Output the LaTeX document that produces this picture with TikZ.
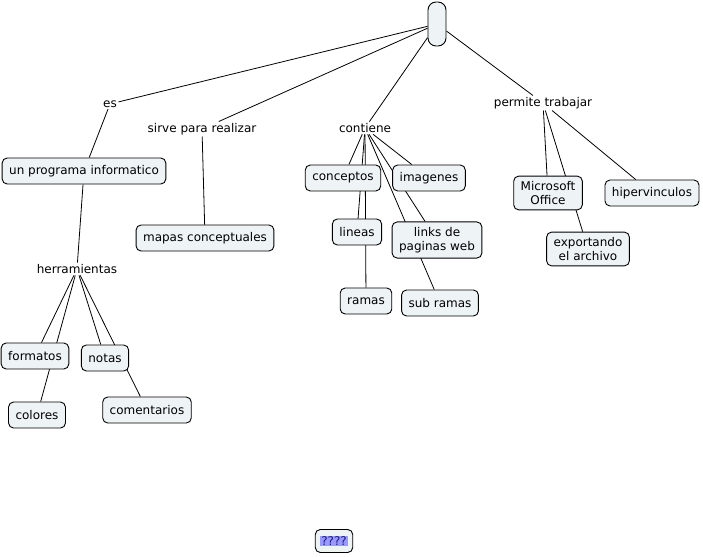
\documentclass[tikz,border=0pt]{standalone}
\usepackage{fontspec}
\setmainfont{DejaVu Sans}
\usepackage{xcolor}
\usepackage{tikz}
\usetikzlibrary{backgrounds}
\definecolor{MapFill}{HTML}{EEF3F5}
\definecolor{MapDark}{HTML}{000000}
\definecolor{AskFill}{HTML}{9999FF}
\definecolor{AskText}{HTML}{1A1A80}
\newcommand{\mapfont}{\fontsize{12}{14.5}\selectfont}
\tikzset{
  conceptbox/.style={draw=MapDark,fill=MapFill,rounded corners=5pt,align=center,minimum height=26pt,inner xsep=7pt,inner ysep=5pt,line width=0.9pt,font=\mapfont},
  linkword/.style={inner sep=1.5pt,font=\mapfont},
  maplink/.style={line width=0.8pt,draw=MapDark}
}

\begin{document}
\begin{tikzpicture}[x=1pt,y=-1pt]
\useasboundingbox (0,0) rectangle (703,556);
% root and linking phrases
\node[conceptbox,minimum width=18pt,minimum height=44pt,inner sep=0pt,rounded corners=8pt] (root) at (437,24) {};
\node[linkword] (es) at (110,104) {es};
\node[linkword] (sirve) at (202,129) {sirve para realizar};
\node[linkword] (contiene) at (365,128) {contiene};
\node[linkword] (permite) at (543,103) {permite trabajar};
\node[linkword] (herram) at (77,269) {herramientas};
% concepts
\node[conceptbox] (programa) at (84,171) {un programa informatico};
\node[conceptbox] (mapas) at (205,238) {mapas conceptuales};
\node[conceptbox] (formatos) at (35,356) {formatos};
\node[conceptbox] (notas) at (105,358) {notas};
\node[conceptbox] (colores) at (37,415) {colores};
\node[conceptbox] (comentarios) at (147,410) {comentarios};
\node[conceptbox] (conceptos) at (343,178) {conceptos};
\node[conceptbox] (imagenes) at (429,178) {imagenes};
\node[conceptbox] (lineas) at (357,232) {lineas};
\node[conceptbox] (links) at (437,240) {links de\\paginas web};
\node[conceptbox] (ramas) at (366,301) {ramas};
\node[conceptbox] (subramas) at (440,303) {sub ramas};
\node[conceptbox] (office) at (548,193) {Microsoft\\Office};
\node[conceptbox] (hiper) at (652,193) {hipervinculos};
\node[conceptbox] (export) at (588,249) {exportando\\el archivo};
\node[conceptbox,minimum height=23pt,inner xsep=5pt] (pregunta) at (334,541) {\setlength{\fboxsep}{1pt}\colorbox{AskFill}{\textcolor{AskText}{????}}};
% connectors under the boxes
\begin{pgfonlayer}{background}
\draw[maplink] (root)--(es);
\draw[maplink] (root)--(sirve);
\draw[maplink] (root)--(contiene);
\draw[maplink] (root)--(permite);
\draw[maplink] (es)--(programa);
\draw[maplink] (programa)--(herram);
\draw[maplink] (herram)--(formatos);
\draw[maplink] (herram)--(colores);
\draw[maplink] (herram)--(notas);
\draw[maplink] (herram)--(comentarios);
\draw[maplink] (sirve)--(mapas);
\draw[maplink] (contiene)--(conceptos);
\draw[maplink] (contiene)--(lineas);
\draw[maplink] (contiene)--(ramas);
\draw[maplink] (contiene)--(imagenes);
\draw[maplink] (contiene)--(links);
\draw[maplink] (contiene)--(subramas);
\draw[maplink] (permite)--(office);
\draw[maplink] (permite)--(export);
\draw[maplink] (permite)--(hiper);
\end{pgfonlayer}
\end{tikzpicture}
\end{document}
